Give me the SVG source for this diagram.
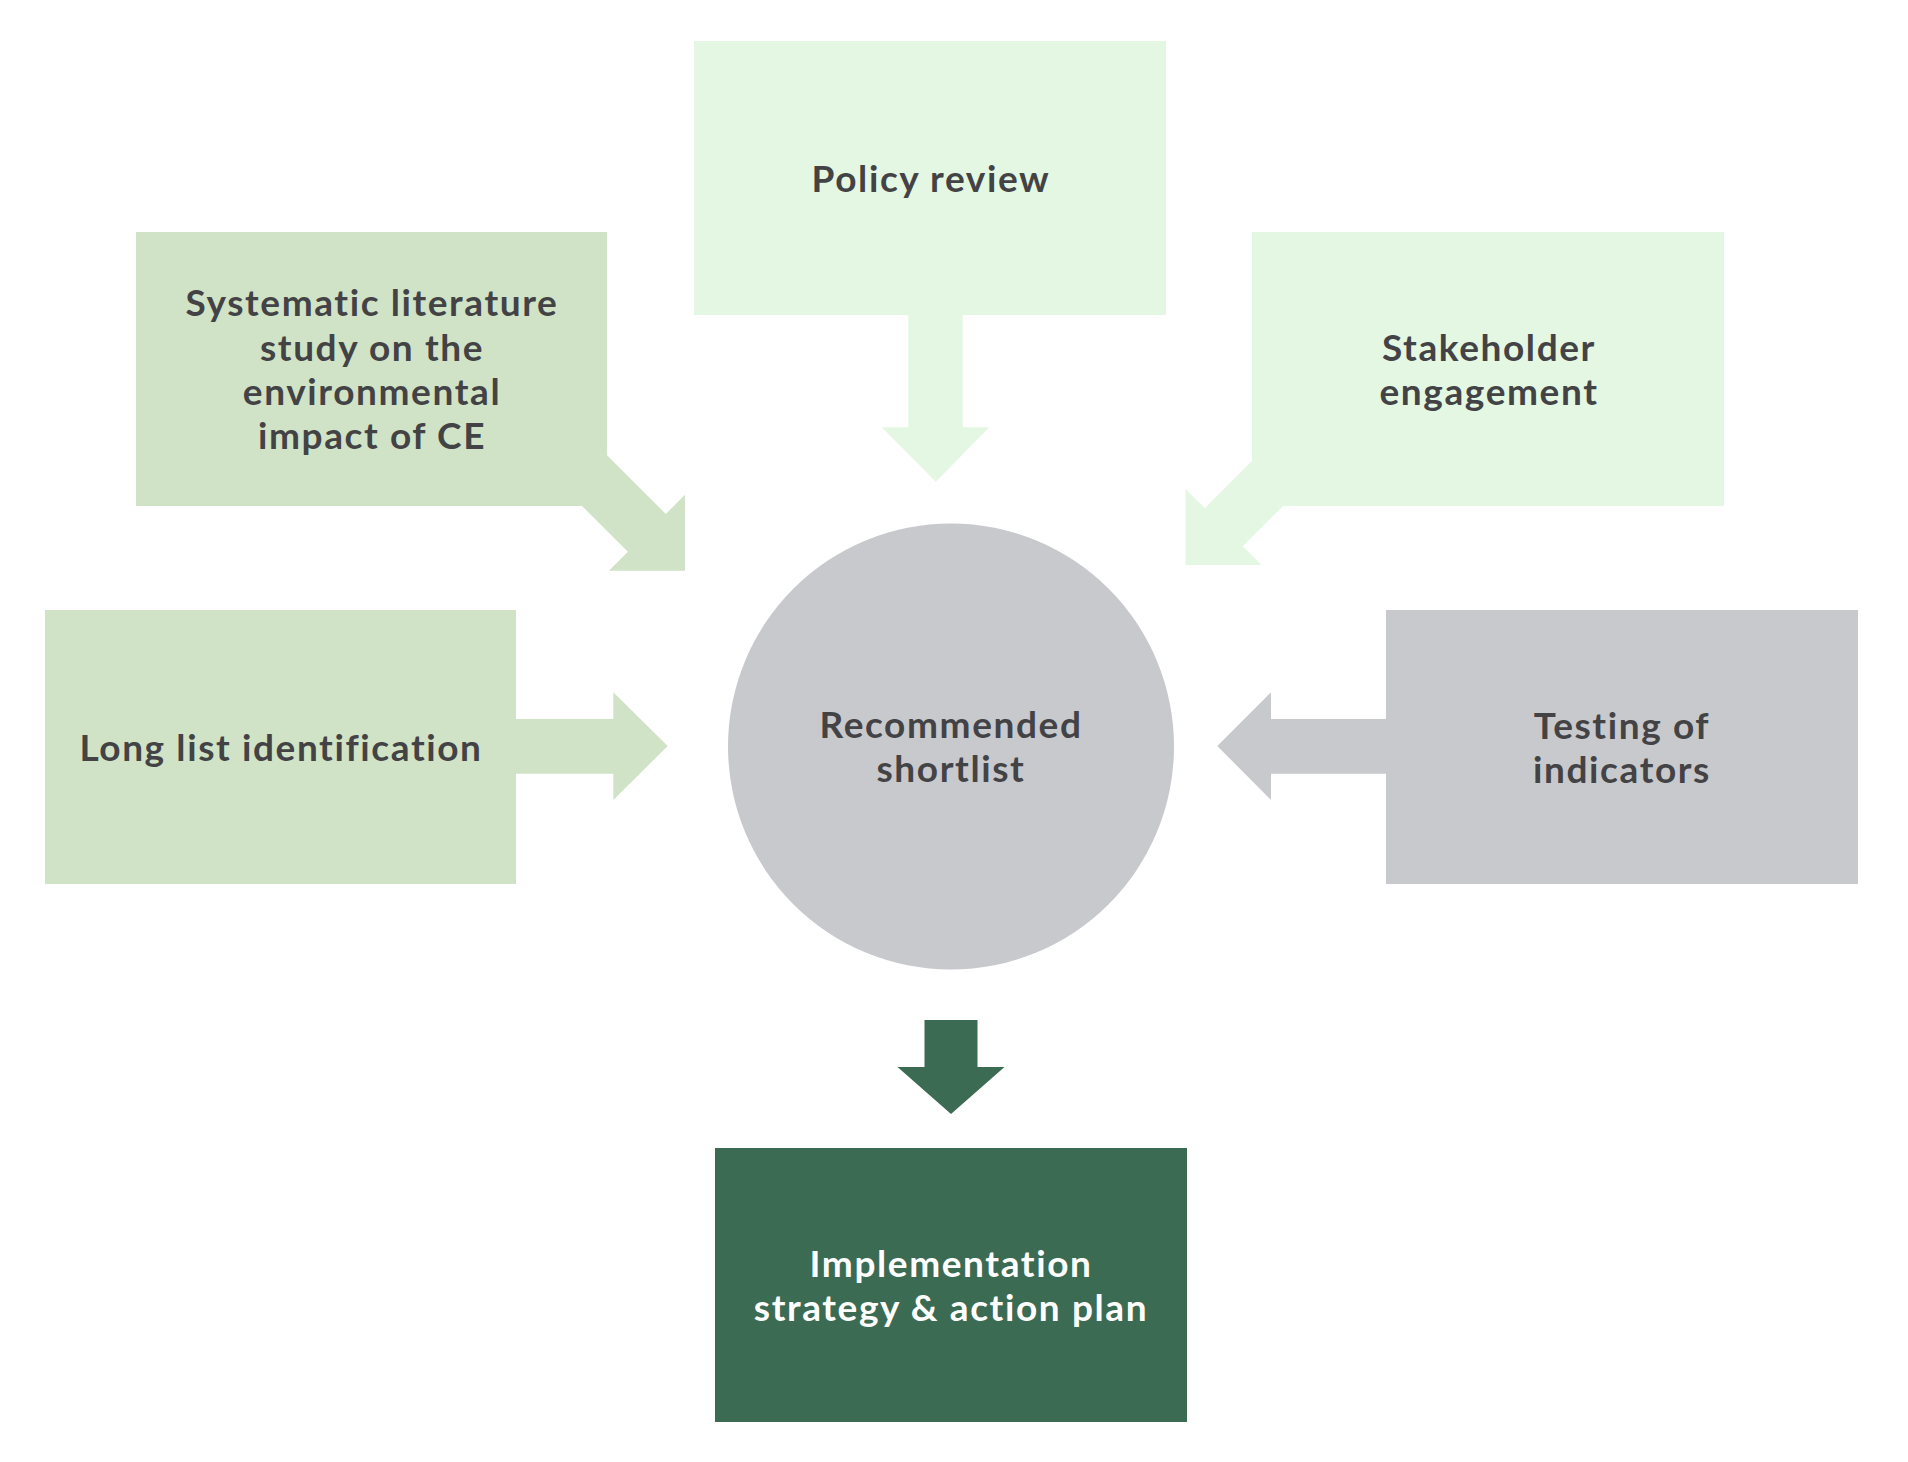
<svg xmlns="http://www.w3.org/2000/svg" width="1908" height="1462" viewBox="0 0 1908 1462">
<style>
.t{font-family:Lato,"Noto Sans","DejaVu Sans",sans-serif;font-weight:700;font-size:37px;letter-spacing:1.6px;font-variant-ligatures:none;fill:#434346;text-anchor:middle}
.w{fill:#ffffff}
.g1{fill:#d1e3c6}
.g2{fill:#e4f7e2}
.gr{fill:#c8c9cc}
.dk{fill:#3b6b53}
</style>
<rect width="1908" height="1462" fill="#ffffff"/>
<g id="connectors">
<polygon class="g2" points="908.3,300 962.7,300 962.7,427.3 989.3,427.3 935.7,481.7 881.7,427.3 908.3,427.3"/>
<polygon class="g1" points="600,448.3 665.85,514 685,494.7 685,570.7 609,570.7 627.85,551.85 581.7,505.7 600,505.7"/>
<polygon class="g2" points="1260,453 1204.75,508.25 1185.5,489 1185.5,565 1261.5,565 1242.75,546.25 1283.3,505.7 1260,505.7"/>
<polygon class="g1" points="505,719 613.3,719 613.3,692.3 667.7,746 613.3,800 613.3,773.7 505,773.7"/>
<polygon class="gr" points="1396,719 1271,719 1271,692.3 1217.3,746 1271,800 1271,773.7 1396,773.7"/>
<polygon class="dk" points="924.5,1020 977.5,1020 977.5,1067 1004.5,1067 951,1114 897.5,1067 924.5,1067"/>
</g>
<g id="policy">
<rect class="g2" x="694" y="41" width="472" height="274"/>
<text class="t" x="931" y="192">Policy review</text>
</g>
<g id="systematic">
<rect class="g1" x="136" y="232" width="471" height="274"/>
<text class="t" x="372" y="316">Systematic literature</text>
<text class="t" x="372" y="361">study on the</text>
<text class="t" x="372" y="405">environmental</text>
<text class="t" x="372" y="449">impact of CE</text>
</g>
<g id="stakeholder">
<rect class="g2" x="1252" y="232" width="472" height="274"/>
<text class="t" x="1489" y="361">Stakeholder</text>
<text class="t" x="1489" y="405">engagement</text>
</g>
<g id="longlist">
<rect class="g1" x="45" y="610" width="471" height="274"/>
<text class="t" x="281" y="761">Long list identification</text>
</g>
<g id="shortlist">
<circle class="gr" cx="951" cy="746.5" r="223"/>
<text class="t" x="951" y="738">Recommended</text>
<text class="t" x="951" y="782">shortlist</text>
</g>
<g id="testing">
<rect class="gr" x="1386" y="610" width="472" height="274"/>
<text class="t" x="1622" y="739">Testing of</text>
<text class="t" x="1622" y="783">indicators</text>
</g>
<g id="implementation">
<rect class="dk" x="715" y="1148" width="472" height="274"/>
<text class="t w" x="951" y="1277">Implementation</text>
<text class="t w" x="951" y="1321">strategy &amp; action plan</text>
</g>
</svg>
